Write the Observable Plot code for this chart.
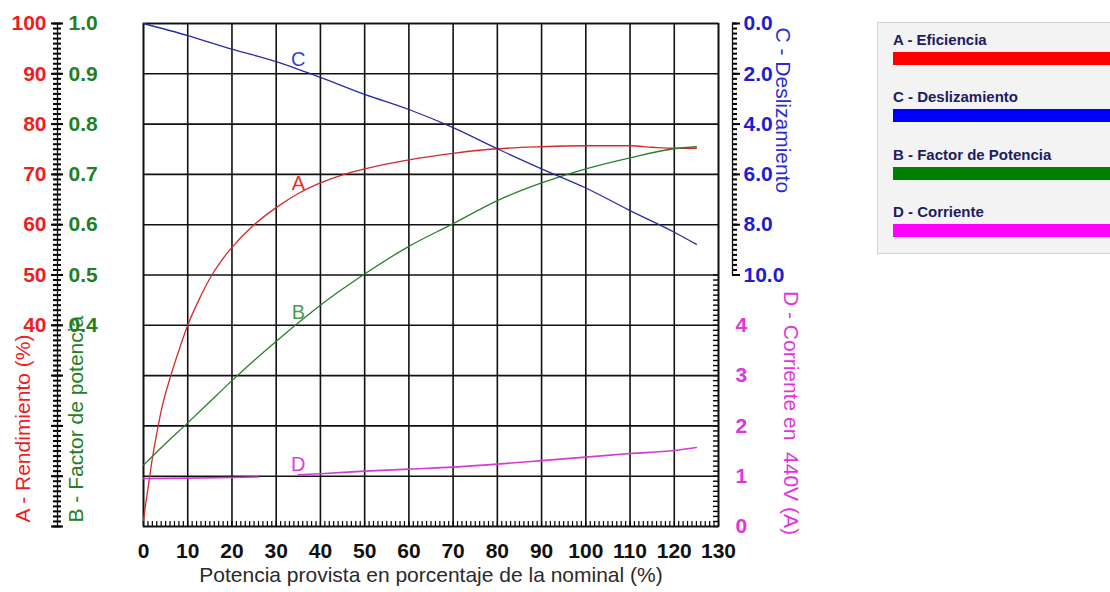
<!DOCTYPE html>
<html>
<head>
<meta charset="utf-8">
<script src="https://cdn.jsdelivr.net/npm/d3@7"></script>
<script src="https://cdn.jsdelivr.net/npm/@observablehq/plot@0.6"></script>
<style>
  body { margin: 0; background: #fff; font-family: "Liberation Sans", Arial, sans-serif; }
  #wrap { position: relative; width: 1110px; height: 592px; overflow: hidden; }
  #chart { position: absolute; left: 0; top: 0; }
  #legend { position: absolute; left: 877px; top: 22px; width: 260px; height: 232px;
            background: #f3f3f3; border: 1px solid #d2d2d2; box-sizing: border-box; }
  .item { position: absolute; left: 15px; right: 0; }
  .item span { display: block; font-size: 15px; font-weight: bold; color: #1c1c5e;
               line-height: 17px; height: 17px; white-space: nowrap; }
  .item i { display: block; height: 13px; margin-top: 4px; }
</style>
</head>
<body>
<div id="wrap">
  <div id="chart"></div>
  <div id="legend"></div>
</div>
<script>
// Motor performance curves versus delivered power (% of nominal)

// A - efficiency (%)
const effX = [0, 0.5, 1, 2, 3, 4, 6, 8, 10, 12.5, 15, 17.5, 20, 25, 30, 35, 40, 45, 50, 60, 70, 80, 90, 100, 110, 115, 120, 125];
const effY = [1.2, 4.5, 7.5, 13.5, 18.5, 23, 29.5, 35, 40, 45, 49.3, 52.7, 55.5, 60, 63.4, 66.2, 68.3, 69.9, 71.1, 72.9, 74.2, 75.1, 75.5, 75.7, 75.7, 75.4, 75.2, 75.2];

// B - power factor
const pfX = [0, 5, 10, 15, 20, 25, 30, 35, 40, 45, 50, 60, 70, 80, 90, 100, 110, 120, 125];
const pfY = [0.122, 0.165, 0.206, 0.248, 0.29, 0.33, 0.368, 0.405, 0.44, 0.472, 0.502, 0.557, 0.602, 0.648, 0.683, 0.711, 0.733, 0.751, 0.755];

// C - slip
const slipX = [0, 10, 20, 30, 35, 40, 50, 60, 70, 80, 90, 100, 110, 120, 125];
const slipY = [0, 0.48, 1.02, 1.52, 1.82, 2.14, 2.82, 3.42, 4.14, 4.98, 5.78, 6.54, 7.44, 8.3, 8.78];

// D - current at 440 V (A); null marks the break in the trace
const curX = [0, 10, 20, 26, 30, 35, 40, 50, 60, 70, 80, 90, 100, 110, 120, 125];
const curY = [0.955, 0.962, 0.975, 0.985, null, 1.03, 1.05, 1.1, 1.14, 1.18, 1.24, 1.31, 1.38, 1.45, 1.51, 1.57];

// Tick labels of each scale
const xTicks = [0, 10, 20, 30, 40, 50, 60, 70, 80, 90, 100, 110, 120, 130];
const effTicks = [40, 50, 60, 70, 80, 90, 100];
const pfTicks = [0.4, 0.5, 0.6, 0.7, 0.8, 0.9, 1.0];
const slipTicks = [0, 2, 4, 6, 8, 10];
const curTicks = [0, 1, 2, 3, 4];

// Series names, curve letters and colours
const curveLetters = ["A", "B", "C", "D"];
const legendLabels = ["A - Eficiencia", "C - Deslizamiento", "B - Factor de Potencia", "D - Corriente"];
const legendColors = ["#ff0000", "#0000ff", "#008000", "#ff00ff"];

const lineColor = {A: "#d42a2a", B: "#2e7d2e", C: "#2a2aa6", D: "#d23cd2"};
const tickColor = {A: "#ee1d23", B: "#237f23", C: "#1d1dcf", D: "#e034e0"};
const letterColor = {A: "#e2312f", B: "#4c9a4c", C: "#3c3cc8", D: "#e040e0"};

// Every series is drawn on the shared 0–100 efficiency scale
const toShared = {
  A: v => v,
  B: v => v * 100,
  C: v => 100 - 5 * v,
  D: v => v * 10
};
const fromShared = {
  B: d => (d / 100).toFixed(1),
  C: d => ((100 - d) / 5).toFixed(1),
  D: d => String(Math.round(d / 10))
};

const toRows = (xs, ys, k) => xs.map((x, i) => ({x, y: ys[i] == null ? null : toShared[k](ys[i])}));
const series = {
  A: toRows(effX, effY, "A"),
  B: toRows(pfX, pfY, "B"),
  C: toRows(slipX, slipY, "C"),
  D: toRows(curX, curY, "D")
};

// Curve letters sit just above each trace at this power level
const letterAt = 35;
const letters = curveLetters.map(k => {
  const row = series[k].find(r => r.x === letterAt);
  return {x: row.x, y: row.y, text: k, color: letterColor[k]};
});

const black = "#111";
const bold = {fontSize: 21, fontWeight: "bold"};

// Frame geometry
const W = 860, H = 592, mL = 143, mR = 142, mT = 23, mB = 66;
const frameW = W - mL - mR;

// Short horizontal tick segments spanning the pixel columns [a, b]
const ladder = (ticks, a, b, width = 2) =>
  Plot.tickY(ticks, {y: d => d, insetRight: frameW - (b - a), dx: a - mL, stroke: "#000", strokeWidth: width});

const chart = Plot.plot({
  width: W,
  height: H,
  marginLeft: mL,
  marginRight: mR,
  marginTop: mT,
  marginBottom: mB,
  x: {domain: [0, 130]},
  y: {domain: [0, 100]},
  style: {fontFamily: "'Liberation Sans', Arial, sans-serif", fontSize: "20px", overflow: "visible"},
  marks: [
    // tick ladders: left shared axis, slip axis, and the inner current ticks on the right edge
    ladder(d3.range(0, 101, 1), 53, 61),
    ladder(d3.range(0, 101, 10), 51, 63),
    ladder(d3.range(50, 101, 1), 732, 737),
    ladder(d3.range(50, 101, 10), 732, 740),
    ladder(d3.range(0, 51, 1), 713, 718, 1.4),

    // grid
    Plot.gridX({ticks: xTicks, stroke: black, strokeOpacity: 1, strokeWidth: 1.6}),
    Plot.gridY({ticks: d3.range(0, 101, 10), stroke: black, strokeOpacity: 1, strokeWidth: 1.6}),

    // inner minor ticks along the bottom edge
    Plot.axisX({ticks: d3.range(0, 131, 1), tickSize: 5, dy: -5, fill: "none", stroke: "#000", strokeWidth: 1.2, label: null}),
    Plot.frame({stroke: black, strokeWidth: 1.6}),

    // x tick labels
    Plot.axisX({ticks: xTicks, tickSize: 0, tickPadding: 17, fill: black, ...bold, label: null}),

    // left double axis: efficiency (red) and power factor (green)
    Plot.ruleX([0], {dx: -86, stroke: black, strokeWidth: 1.3}),
    Plot.axisY({anchor: "left", ticks: effTicks.map(toShared.A), tickSize: 0, tickPadding: 0, dx: -97,
                fill: tickColor.A, ...bold, label: null}),
    Plot.axisY({anchor: "left", ticks: pfTicks.map(toShared.B), tickFormat: fromShared.B, tickSize: 0, tickPadding: 0,
                textAnchor: "start", dx: -75, fill: tickColor.B, ...bold, label: null}),

    // right axis: slip (blue)
    Plot.ruleX([{x: 130, y1: toShared.C(10), y2: toShared.C(0)}], {x: "x", y1: "y1", y2: "y2", dx: 14, stroke: black, strokeWidth: 1.3}),
    Plot.axisY({anchor: "right", ticks: slipTicks.map(toShared.C), tickFormat: fromShared.C, tickSize: 0, tickPadding: 0,
                dx: 25, fill: tickColor.C, ...bold, label: null}),

    // right axis: current (magenta)
    Plot.axisY({anchor: "right", ticks: curTicks.map(toShared.D), tickFormat: fromShared.D, tickSize: 0, tickPadding: 0,
                dx: 17, fill: tickColor.D, ...bold, label: null}),

    // axis titles
    Plot.text(["A - Rendimiento (%)"], {frameAnchor: "bottom-left", rotate: -90, textAnchor: "start", dx: -114, dy: -4, fill: tickColor.A, fontSize: 21}),
    Plot.text(["B - Factor de potencia"], {frameAnchor: "bottom-left", rotate: -90, textAnchor: "start", dx: -61, dy: -4, fill: tickColor.B, fontSize: 21}),
    Plot.text(["C - Deslizamiento"], {frameAnchor: "top-right", rotate: 90, textAnchor: "start", dx: 72, dy: 4, fill: "#2b2bd0", fontSize: 21}),
    Plot.text(["D - Corriente en  440V (A)"], {frameAnchor: "right", rotate: 90, textAnchor: "start", dx: 72, dy: 16, fill: tickColor.D, fontSize: 21}),
    Plot.text(["Potencia provista en porcentaje de la nominal (%)"], {frameAnchor: "bottom", dy: 55, fill: "#2a2a2a", fontSize: 21}),

    // curves
    Plot.line(series.A, {x: "x", y: "y", curve: "monotone-x", stroke: lineColor.A, strokeWidth: 1.3}),
    Plot.line(series.B, {x: "x", y: "y", curve: "monotone-x", stroke: lineColor.B, strokeWidth: 1.3}),
    Plot.line(series.C, {x: "x", y: "y", curve: "monotone-x", stroke: lineColor.C, strokeWidth: 1.3}),
    Plot.line(series.D, {x: "x", y: "y", curve: "monotone-x", stroke: lineColor.D, strokeWidth: 1.6}),

    // curve letters, one text mark per colour
    ...letters.map(d => Plot.text([d], {x: "x", y: "y", text: "text", fill: d.color, dy: -10, fontSize: 20}))
  ]
});
document.getElementById("chart").append(chart);

// Legend panel
const legend = document.getElementById("legend");
legendLabels.forEach((label, i) => {
  const item = document.createElement("div");
  item.className = "item";
  item.style.top = (8 + i * 57.3) + "px";
  const span = document.createElement("span");
  span.textContent = label;
  const bar = document.createElement("i");
  bar.style.background = legendColors[i];
  item.append(span, bar);
  legend.append(item);
});
</script>
</body>
</html>
